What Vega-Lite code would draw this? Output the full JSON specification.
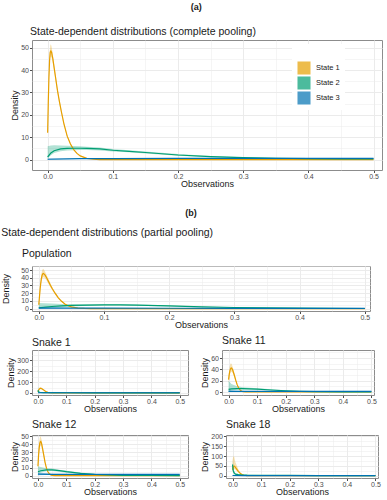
{
  "$schema": "https://vega.github.io/schema/vega-lite/v6.json",
  "padding": {"left": 1, "top": 3, "right": 4, "bottom": 0},
  "config": {
    "font": "Liberation Sans",
    "view": {"stroke": "#8c8c8c", "strokeWidth": 1},
    "axis": {"domain": false, "labelFontSize": 7, "labelColor": "#4d4d4d", "titleFontSize": 9, "titleFontWeight": "normal", "titleColor": "#1a1a1a", "tickColor": "#4d4d4d", "tickSize": 2.5, "labelPadding": 1, "titlePadding": 1, "gridColor": "#ebebeb", "labelOverlap": false, "labelFont": "Liberation Sans", "titleFont": "Liberation Sans"},
    "axisX": {"labelPadding": 0, "titlePadding": 0},
    "title": {"fontSize": 10.5, "fontWeight": "normal", "anchor": "start", "offset": 3, "color": "#1a1a1a", "font": "Liberation Sans"},
    "legend": {"labelFont": "Liberation Sans"}
  },
  "datasets": {
    "a": [
      {"s":"State 1","x":0,"y":12,"lo":10.5,"hi":13.5},{"s":"State 1","x":0.001,"y":26,"lo":24,"hi":28},{"s":"State 1","x":0.002,"y":37,"lo":35,"hi":39.5},{"s":"State 1","x":0.003,"y":44.5,"lo":42,"hi":47.5},{"s":"State 1","x":0.004,"y":48,"lo":45.5,"hi":51},{"s":"State 1","x":0.005,"y":48.5,"lo":46,"hi":51.5},{"s":"State 1","x":0.006,"y":48,"lo":45.5,"hi":50.5},{"s":"State 1","x":0.008,"y":45,"lo":43,"hi":47},{"s":"State 1","x":0.01,"y":41,"lo":39.5,"hi":42.5},{"s":"State 1","x":0.012,"y":37,"lo":35.5,"hi":38.5},{"s":"State 1","x":0.015,"y":31,"lo":30,"hi":32},{"s":"State 1","x":0.018,"y":26,"lo":25,"hi":27},{"s":"State 1","x":0.021,"y":21.5,"lo":20.5,"hi":22.5},{"s":"State 1","x":0.025,"y":16,"lo":15.3,"hi":16.7},{"s":"State 1","x":0.03,"y":10.5,"lo":10,"hi":11},{"s":"State 1","x":0.035,"y":7,"lo":6.6,"hi":7.4},{"s":"State 1","x":0.04,"y":4.5,"lo":4.2,"hi":4.8},{"s":"State 1","x":0.045,"y":2.8,"lo":2.6,"hi":3},{"s":"State 1","x":0.05,"y":1.7,"lo":1.5,"hi":1.9},{"s":"State 1","x":0.06,"y":0.6,"lo":0.5,"hi":0.7},{"s":"State 1","x":0.07,"y":0.2,"lo":0.15,"hi":0.25},{"s":"State 1","x":0.08,"y":0.07,"lo":0.05,"hi":0.09},{"s":"State 1","x":0.1,"y":0.01,"lo":0,"hi":0.02},{"s":"State 1","x":0.2,"y":0,"lo":0,"hi":0},{"s":"State 1","x":0.3,"y":0,"lo":0,"hi":0},{"s":"State 1","x":0.4,"y":0,"lo":0,"hi":0},{"s":"State 1","x":0.5,"y":0,"lo":0,"hi":0},
      {"s":"State 2","x":0,"y":1.2,"lo":0.5,"hi":6},{"s":"State 2","x":0.005,"y":3,"lo":2,"hi":6.3},{"s":"State 2","x":0.01,"y":4,"lo":3,"hi":6.4},{"s":"State 2","x":0.02,"y":4.8,"lo":3.8,"hi":6.3},{"s":"State 2","x":0.03,"y":5.05,"lo":4.1,"hi":6.2},{"s":"State 2","x":0.04,"y":5.1,"lo":4.2,"hi":6.1},{"s":"State 2","x":0.05,"y":5.1,"lo":4.3,"hi":6},{"s":"State 2","x":0.06,"y":5.05,"lo":4.3,"hi":5.8},{"s":"State 2","x":0.08,"y":4.8,"lo":4.1,"hi":5.4},{"s":"State 2","x":0.1,"y":4.2,"lo":3.7,"hi":4.8},{"s":"State 2","x":0.125,"y":3.7,"lo":3.3,"hi":4.2},{"s":"State 2","x":0.15,"y":3.2,"lo":2.8,"hi":3.6},{"s":"State 2","x":0.2,"y":2.1,"lo":1.8,"hi":2.5},{"s":"State 2","x":0.25,"y":1.35,"lo":1.1,"hi":1.6},{"s":"State 2","x":0.3,"y":0.9,"lo":0.7,"hi":1.1},{"s":"State 2","x":0.35,"y":0.65,"lo":0.5,"hi":0.85},{"s":"State 2","x":0.4,"y":0.45,"lo":0.3,"hi":0.6},{"s":"State 2","x":0.45,"y":0.35,"lo":0.22,"hi":0.5},{"s":"State 2","x":0.5,"y":0.3,"lo":0.2,"hi":0.4},
      {"s":"State 3","x":0,"y":0.2,"lo":0,"hi":0.5},{"s":"State 3","x":0.05,"y":0.45,"lo":0.3,"hi":0.6},{"s":"State 3","x":0.1,"y":0.5,"lo":0.35,"hi":0.65},{"s":"State 3","x":0.2,"y":0.55,"lo":0.4,"hi":0.7},{"s":"State 3","x":0.3,"y":0.55,"lo":0.4,"hi":0.7},{"s":"State 3","x":0.4,"y":0.55,"lo":0.4,"hi":0.7},{"s":"State 3","x":0.5,"y":0.55,"lo":0.4,"hi":0.7}
    ],
    "pop": [
      {"s":"State 1","x":0,"y":5,"lo":3,"hi":7},{"s":"State 1","x":0.001,"y":15,"lo":12,"hi":18},{"s":"State 1","x":0.002,"y":25,"lo":21,"hi":29},{"s":"State 1","x":0.003,"y":33,"lo":29,"hi":38},{"s":"State 1","x":0.004,"y":39,"lo":34,"hi":45},{"s":"State 1","x":0.005,"y":43,"lo":38,"hi":49},{"s":"State 1","x":0.006,"y":45,"lo":40,"hi":51},{"s":"State 1","x":0.007,"y":45.5,"lo":40.5,"hi":51.5},{"s":"State 1","x":0.008,"y":45,"lo":40.5,"hi":50.5},{"s":"State 1","x":0.01,"y":43,"lo":39,"hi":47},{"s":"State 1","x":0.012,"y":40,"lo":36.5,"hi":43.5},{"s":"State 1","x":0.015,"y":35,"lo":32,"hi":38},{"s":"State 1","x":0.018,"y":30,"lo":27.5,"hi":32.5},{"s":"State 1","x":0.021,"y":25.5,"lo":23.5,"hi":27.5},{"s":"State 1","x":0.025,"y":20,"lo":18.5,"hi":21.5},{"s":"State 1","x":0.03,"y":14,"lo":13,"hi":15},{"s":"State 1","x":0.035,"y":9.5,"lo":8.8,"hi":10.2},{"s":"State 1","x":0.04,"y":6,"lo":5.5,"hi":6.5},{"s":"State 1","x":0.045,"y":3.8,"lo":3.4,"hi":4.2},{"s":"State 1","x":0.05,"y":2.3,"lo":2,"hi":2.6},{"s":"State 1","x":0.06,"y":0.8,"lo":0.6,"hi":1},{"s":"State 1","x":0.07,"y":0.3,"lo":0.2,"hi":0.4},{"s":"State 1","x":0.08,"y":0.1,"lo":0.05,"hi":0.15},{"s":"State 1","x":0.1,"y":0,"lo":0,"hi":0.02},{"s":"State 1","x":0.2,"y":0,"lo":0,"hi":0},{"s":"State 1","x":0.3,"y":0,"lo":0,"hi":0},{"s":"State 1","x":0.4,"y":0,"lo":0,"hi":0},{"s":"State 1","x":0.5,"y":0,"lo":0,"hi":0},
      {"s":"State 2","x":0,"y":1.2,"lo":0,"hi":7.5},{"s":"State 2","x":0.01,"y":2,"lo":0.5,"hi":7},{"s":"State 2","x":0.02,"y":2.8,"lo":1,"hi":6.6},{"s":"State 2","x":0.035,"y":3.6,"lo":2,"hi":6.1},{"s":"State 2","x":0.05,"y":4.2,"lo":2.8,"hi":5.8},{"s":"State 2","x":0.075,"y":4.7,"lo":3.8,"hi":5.7},{"s":"State 2","x":0.1,"y":5,"lo":4.2,"hi":5.8},{"s":"State 2","x":0.125,"y":4.9,"lo":4.2,"hi":5.6},{"s":"State 2","x":0.15,"y":4.6,"lo":3.9,"hi":5.3},{"s":"State 2","x":0.2,"y":3.5,"lo":2.9,"hi":4.1},{"s":"State 2","x":0.25,"y":2.4,"lo":1.9,"hi":2.9},{"s":"State 2","x":0.3,"y":1.5,"lo":1.1,"hi":1.9},{"s":"State 2","x":0.35,"y":1,"lo":0.7,"hi":1.3},{"s":"State 2","x":0.4,"y":0.6,"lo":0.4,"hi":0.85},{"s":"State 2","x":0.45,"y":0.4,"lo":0.25,"hi":0.6},{"s":"State 2","x":0.5,"y":0.25,"lo":0.1,"hi":0.4},
      {"s":"State 3","x":0,"y":0.8,"lo":0,"hi":2.5},{"s":"State 3","x":0.02,"y":0.75,"lo":0.3,"hi":1.5},{"s":"State 3","x":0.05,"y":0.7,"lo":0.4,"hi":1.1},{"s":"State 3","x":0.1,"y":0.6,"lo":0.4,"hi":0.8},{"s":"State 3","x":0.2,"y":0.55,"lo":0.4,"hi":0.7},{"s":"State 3","x":0.3,"y":0.5,"lo":0.35,"hi":0.65},{"s":"State 3","x":0.4,"y":0.5,"lo":0.35,"hi":0.65},{"s":"State 3","x":0.5,"y":0.5,"lo":0.35,"hi":0.65}
    ],
    "s1": [
      {"s":"State 1","x":0,"y":8,"lo":2,"hi":16},{"s":"State 1","x":0.002,"y":22,"lo":14,"hi":32},{"s":"State 1","x":0.004,"y":33,"lo":24,"hi":44},{"s":"State 1","x":0.006,"y":39,"lo":30,"hi":50},{"s":"State 1","x":0.008,"y":42,"lo":33,"hi":53},{"s":"State 1","x":0.01,"y":42.5,"lo":34,"hi":53},{"s":"State 1","x":0.012,"y":41,"lo":33,"hi":51},{"s":"State 1","x":0.015,"y":37,"lo":30,"hi":46},{"s":"State 1","x":0.02,"y":28,"lo":22,"hi":35},{"s":"State 1","x":0.025,"y":18,"lo":14,"hi":23},{"s":"State 1","x":0.03,"y":10,"lo":7.5,"hi":13},{"s":"State 1","x":0.035,"y":5,"lo":3.5,"hi":7},{"s":"State 1","x":0.04,"y":2,"lo":1.3,"hi":3},{"s":"State 1","x":0.05,"y":0.5,"lo":0.3,"hi":0.8},{"s":"State 1","x":0.06,"y":0.1,"lo":0,"hi":0.2},{"s":"State 1","x":0.1,"y":0,"lo":0,"hi":0},{"s":"State 1","x":0.2,"y":0,"lo":0,"hi":0},{"s":"State 1","x":0.3,"y":0,"lo":0,"hi":0},{"s":"State 1","x":0.4,"y":0,"lo":0,"hi":0},{"s":"State 1","x":0.5,"y":0,"lo":0,"hi":0},
      {"s":"State 2","x":0,"y":25,"lo":5,"hi":60},{"s":"State 2","x":0.002,"y":12,"lo":4,"hi":30},{"s":"State 2","x":0.005,"y":6,"lo":3,"hi":14},{"s":"State 2","x":0.01,"y":4,"lo":2.5,"hi":8},{"s":"State 2","x":0.02,"y":3,"lo":2,"hi":5},{"s":"State 2","x":0.05,"y":2.2,"lo":1.5,"hi":3.2},{"s":"State 2","x":0.1,"y":1.5,"lo":1,"hi":2.2},{"s":"State 2","x":0.2,"y":0.8,"lo":0.5,"hi":1.2},{"s":"State 2","x":0.3,"y":0.4,"lo":0.2,"hi":0.7},{"s":"State 2","x":0.4,"y":0.2,"lo":0.1,"hi":0.4},{"s":"State 2","x":0.5,"y":0.1,"lo":0,"hi":0.25},
      {"s":"State 3","x":0,"y":1.5,"lo":0,"hi":4},{"s":"State 3","x":0.05,"y":1.5,"lo":0.8,"hi":2.4},{"s":"State 3","x":0.1,"y":1.5,"lo":0.9,"hi":2.2},{"s":"State 3","x":0.2,"y":1.5,"lo":1,"hi":2},{"s":"State 3","x":0.3,"y":1.5,"lo":1,"hi":2},{"s":"State 3","x":0.4,"y":1.5,"lo":1,"hi":2},{"s":"State 3","x":0.5,"y":1.5,"lo":1,"hi":2}
    ],
    "s11": [
      {"s":"State 1","x":0,"y":22,"lo":15,"hi":30},{"s":"State 1","x":0.002,"y":30,"lo":23,"hi":38},{"s":"State 1","x":0.004,"y":36,"lo":29,"hi":45},{"s":"State 1","x":0.006,"y":40,"lo":33,"hi":49},{"s":"State 1","x":0.008,"y":42,"lo":35,"hi":51},{"s":"State 1","x":0.01,"y":42.5,"lo":36,"hi":50},{"s":"State 1","x":0.012,"y":41.5,"lo":35.5,"hi":48},{"s":"State 1","x":0.015,"y":38,"lo":33,"hi":43.5},{"s":"State 1","x":0.02,"y":30,"lo":26,"hi":34},{"s":"State 1","x":0.025,"y":21,"lo":18,"hi":24},{"s":"State 1","x":0.03,"y":13,"lo":11,"hi":15},{"s":"State 1","x":0.035,"y":7.5,"lo":6.3,"hi":8.8},{"s":"State 1","x":0.04,"y":3.8,"lo":3.1,"hi":4.6},{"s":"State 1","x":0.045,"y":1.8,"lo":1.4,"hi":2.3},{"s":"State 1","x":0.05,"y":0.8,"lo":0.6,"hi":1.1},{"s":"State 1","x":0.06,"y":0.2,"lo":0.1,"hi":0.3},{"s":"State 1","x":0.1,"y":0,"lo":0,"hi":0},{"s":"State 1","x":0.2,"y":0,"lo":0,"hi":0},{"s":"State 1","x":0.3,"y":0,"lo":0,"hi":0},{"s":"State 1","x":0.4,"y":0,"lo":0,"hi":0},{"s":"State 1","x":0.5,"y":0,"lo":0,"hi":0},
      {"s":"State 2","x":0,"y":4.5,"lo":0,"hi":20},{"s":"State 2","x":0.01,"y":5.5,"lo":2.5,"hi":14},{"s":"State 2","x":0.03,"y":6,"lo":4,"hi":10},{"s":"State 2","x":0.05,"y":6,"lo":4.5,"hi":8.5},{"s":"State 2","x":0.1,"y":5,"lo":3.8,"hi":6.8},{"s":"State 2","x":0.15,"y":3.5,"lo":2.5,"hi":4.8},{"s":"State 2","x":0.2,"y":2,"lo":1.3,"hi":2.9},{"s":"State 2","x":0.25,"y":1,"lo":0.5,"hi":1.6},{"s":"State 2","x":0.3,"y":0.5,"lo":0.2,"hi":0.9},{"s":"State 2","x":0.4,"y":0.1,"lo":0,"hi":0.3},{"s":"State 2","x":0.5,"y":0,"lo":0,"hi":0.1},
      {"s":"State 3","x":0,"y":1,"lo":0,"hi":3},{"s":"State 3","x":0.05,"y":1,"lo":0.5,"hi":1.6},{"s":"State 3","x":0.1,"y":1,"lo":0.6,"hi":1.4},{"s":"State 3","x":0.2,"y":1,"lo":0.7,"hi":1.3},{"s":"State 3","x":0.3,"y":1,"lo":0.7,"hi":1.3},{"s":"State 3","x":0.4,"y":1,"lo":0.7,"hi":1.3},{"s":"State 3","x":0.5,"y":1,"lo":0.7,"hi":1.3}
    ],
    "s12": [
      {"s":"State 1","x":0,"y":12,"lo":8,"hi":17},{"s":"State 1","x":0.002,"y":25,"lo":20,"hi":31},{"s":"State 1","x":0.004,"y":34,"lo":28,"hi":41},{"s":"State 1","x":0.006,"y":40,"lo":34,"hi":47},{"s":"State 1","x":0.008,"y":43,"lo":37,"hi":50},{"s":"State 1","x":0.01,"y":43.5,"lo":38,"hi":49.5},{"s":"State 1","x":0.012,"y":42,"lo":37,"hi":47},{"s":"State 1","x":0.015,"y":37,"lo":33,"hi":41},{"s":"State 1","x":0.02,"y":27,"lo":24,"hi":30},{"s":"State 1","x":0.025,"y":17,"lo":15,"hi":19},{"s":"State 1","x":0.03,"y":9.5,"lo":8.3,"hi":10.8},{"s":"State 1","x":0.035,"y":5,"lo":4.3,"hi":5.8},{"s":"State 1","x":0.04,"y":2.3,"lo":1.9,"hi":2.8},{"s":"State 1","x":0.045,"y":1,"lo":0.8,"hi":1.3},{"s":"State 1","x":0.05,"y":0.4,"lo":0.3,"hi":0.6},{"s":"State 1","x":0.06,"y":0.1,"lo":0,"hi":0.2},{"s":"State 1","x":0.1,"y":0,"lo":0,"hi":0},{"s":"State 1","x":0.2,"y":0,"lo":0,"hi":0},{"s":"State 1","x":0.3,"y":0,"lo":0,"hi":0},{"s":"State 1","x":0.4,"y":0,"lo":0,"hi":0},{"s":"State 1","x":0.5,"y":0,"lo":0,"hi":0},
      {"s":"State 2","x":0,"y":5,"lo":2,"hi":12},{"s":"State 2","x":0.01,"y":6.2,"lo":4,"hi":11},{"s":"State 2","x":0.03,"y":7.4,"lo":5.5,"hi":9.5},{"s":"State 2","x":0.05,"y":7.4,"lo":6,"hi":9},{"s":"State 2","x":0.075,"y":6.3,"lo":5,"hi":7.6},{"s":"State 2","x":0.1,"y":5,"lo":3.8,"hi":6.2},{"s":"State 2","x":0.15,"y":3,"lo":2.1,"hi":4},{"s":"State 2","x":0.2,"y":1.5,"lo":0.8,"hi":2.2},{"s":"State 2","x":0.25,"y":0.8,"lo":0.4,"hi":1.3},{"s":"State 2","x":0.3,"y":0.4,"lo":0.1,"hi":0.8},{"s":"State 2","x":0.4,"y":0.15,"lo":0,"hi":0.4},{"s":"State 2","x":0.5,"y":0.1,"lo":0,"hi":0.25},
      {"s":"State 3","x":0,"y":2,"lo":0.5,"hi":4},{"s":"State 3","x":0.05,"y":1.6,"lo":1,"hi":2.3},{"s":"State 3","x":0.1,"y":1.5,"lo":1.1,"hi":2},{"s":"State 3","x":0.2,"y":1.5,"lo":1.1,"hi":1.9},{"s":"State 3","x":0.3,"y":1.5,"lo":1.1,"hi":1.9},{"s":"State 3","x":0.4,"y":1.5,"lo":1.1,"hi":1.9},{"s":"State 3","x":0.5,"y":1.5,"lo":1.1,"hi":1.9}
    ],
    "s18": [
      {"s":"State 1","x":0,"y":30,"lo":15,"hi":80},{"s":"State 1","x":0.002,"y":42,"lo":25,"hi":95},{"s":"State 1","x":0.004,"y":48,"lo":30,"hi":100},{"s":"State 1","x":0.006,"y":48.5,"lo":32,"hi":95},{"s":"State 1","x":0.008,"y":46,"lo":32,"hi":80},{"s":"State 1","x":0.01,"y":42,"lo":30,"hi":68},{"s":"State 1","x":0.015,"y":32,"lo":24,"hi":50},{"s":"State 1","x":0.02,"y":22,"lo":17,"hi":33},{"s":"State 1","x":0.025,"y":14,"lo":11,"hi":21},{"s":"State 1","x":0.03,"y":8,"lo":6,"hi":13},{"s":"State 1","x":0.035,"y":4,"lo":3,"hi":7},{"s":"State 1","x":0.04,"y":2,"lo":1.4,"hi":3.5},{"s":"State 1","x":0.05,"y":0.5,"lo":0.3,"hi":1},{"s":"State 1","x":0.06,"y":0.1,"lo":0,"hi":0.3},{"s":"State 1","x":0.1,"y":0,"lo":0,"hi":0},{"s":"State 1","x":0.2,"y":0,"lo":0,"hi":0},{"s":"State 1","x":0.3,"y":0,"lo":0,"hi":0},{"s":"State 1","x":0.4,"y":0,"lo":0,"hi":0},{"s":"State 1","x":0.5,"y":0,"lo":0,"hi":0},
      {"s":"State 2","x":0,"y":57,"lo":30,"hi":80},{"s":"State 2","x":0.002,"y":28,"lo":15,"hi":45},{"s":"State 2","x":0.005,"y":15,"lo":9,"hi":24},{"s":"State 2","x":0.01,"y":8,"lo":5,"hi":12},{"s":"State 2","x":0.02,"y":5.5,"lo":4,"hi":8},{"s":"State 2","x":0.03,"y":4.5,"lo":3.3,"hi":6},{"s":"State 2","x":0.05,"y":3.2,"lo":2.4,"hi":4.2},{"s":"State 2","x":0.1,"y":2,"lo":1.4,"hi":2.7},{"s":"State 2","x":0.2,"y":1,"lo":0.6,"hi":1.5},{"s":"State 2","x":0.3,"y":0.4,"lo":0.2,"hi":0.7},{"s":"State 2","x":0.4,"y":0.15,"lo":0,"hi":0.35},{"s":"State 2","x":0.5,"y":0.05,"lo":0,"hi":0.2},
      {"s":"State 3","x":0,"y":0.8,"lo":0,"hi":3},{"s":"State 3","x":0.05,"y":0.6,"lo":0.2,"hi":1.2},{"s":"State 3","x":0.1,"y":0.5,"lo":0.2,"hi":0.9},{"s":"State 3","x":0.2,"y":0.5,"lo":0.2,"hi":0.9},{"s":"State 3","x":0.3,"y":0.5,"lo":0.2,"hi":0.9},{"s":"State 3","x":0.4,"y":0.5,"lo":0.2,"hi":0.9},{"s":"State 3","x":0.5,"y":0.5,"lo":0.2,"hi":0.9}
    ]
  },
  "resolve": {"scale": {"fill": "independent", "stroke": "independent"}},
  "spacing": 19,
  "vconcat": [
    {
      "title": {"text": "(a)", "anchor": "middle", "fontWeight": "bold", "fontSize": 9, "offset": 14, "frame": "bounds"},
      "resolve": {"scale": {"fill": "independent", "stroke": "independent"}},
      "vconcat": [
        {
          "title": {"text": "State-dependent distributions (complete pooling)", "frame": "group", "dx": -2},
          "width": 350, "height": 130,
          "data": {"name": "a"},
          "encoding": {
            "x": {"field": "x", "type": "quantitative", "scale": {"domain": [-0.024, 0.513], "nice": false, "zero": false},
                  "axis": {"title": "Observations", "labelOverlap": false, "values": [0,0.05,0.1,0.15,0.2,0.25,0.3,0.35,0.4,0.45,0.5], "labelExpr": "round(datum.value*100)%10==0 ? format(datum.value,'.1f') : ''", "tickOpacity": {"condition": {"test": "round(datum.value*100)%10!=0", "value": 0}, "value": 1}, "gridWidth": {"condition": {"test": "round(datum.value*100)%10!=0", "value": 0.5}, "value": 1}}}
          },
          "layer": [
            {"mark": {"type": "area", "opacity": 0.3},
             "encoding": {
               "y": {"field": "lo", "type": "quantitative", "stack": null, "scale": {"domain": [-4.6, 53.4], "nice": false, "zero": false},
                     "axis": {"title": "Density", "labelOverlap": false, "values": [0,5,10,15,20,25,30,35,40,45,50], "labelExpr": "datum.value%10==0 ? format(datum.value,'d') : ''", "tickOpacity": {"condition": {"test": "datum.value%10!=0", "value": 0}, "value": 1}, "gridWidth": {"condition": {"test": "datum.value%10!=0", "value": 0.5}, "value": 1}}},
               "y2": {"field": "hi"},
               "fill": {"field": "s", "type": "nominal", "scale": {"domain": ["State 1","State 2","State 3"], "range": ["#E69F00","#009E73","#0072B2"]},
                        "legend": {"title": " ", "titleFontSize": 7, "orient": "none", "legendX": 260, "legendY": 4, "symbolType": "square", "symbolSize": 170, "symbolOpacity": 0.7, "symbolStrokeWidth": 0, "labelFontSize": 7.5, "labelColor": "#1a1a1a", "fillColor": "white", "padding": 5, "rowPadding": 1, "labelOffset": 5}}
             }},
            {"mark": {"type": "line", "strokeWidth": 1.2},
             "encoding": {
               "y": {"field": "y", "type": "quantitative", "scale": {"domain": [-4.6, 53.4], "nice": false, "zero": false},
                     "axis": {"title": "Density", "labelOverlap": false, "values": [0,5,10,15,20,25,30,35,40,45,50], "labelExpr": "datum.value%10==0 ? format(datum.value,'d') : ''", "tickOpacity": {"condition": {"test": "datum.value%10!=0", "value": 0}, "value": 1}, "gridWidth": {"condition": {"test": "datum.value%10!=0", "value": 0.5}, "value": 1}}},
               "stroke": {"field": "s", "type": "nominal", "scale": {"domain": ["State 1","State 2","State 3"], "range": ["#E69F00","#009E73","#0072B2"]}, "legend": null}
             }}
          ]
        }
      ]
    },
    {
      "title": {"text": "(b)", "anchor": "middle", "fontWeight": "bold", "fontSize": 9, "offset": 10, "frame": "bounds"},
      "vconcat": [
        {
          "title": {"text": "State-dependent distributions (partial pooling)", "frame": "bounds", "offset": 10},
          "spacing": 5,
          "vconcat": [
            {
              "title": {"text": "Population", "frame": "group", "dx": -10},
              "width": 338, "height": 45,
              "data": {"name": "pop"},
              "encoding": {
                "x": {"field": "x", "type": "quantitative", "scale": {"domain": [-0.0104, 0.508], "nice": false, "zero": false},
                      "axis": {"title": "Observations", "labelOverlap": false, "values": [0,0.05,0.1,0.15,0.2,0.25,0.3,0.35,0.4,0.45,0.5], "labelExpr": "round(datum.value*100)%10==0 ? format(datum.value,'.1f') : ''", "tickOpacity": {"condition": {"test": "round(datum.value*100)%10!=0", "value": 0}, "value": 1}, "gridWidth": {"condition": {"test": "round(datum.value*100)%10!=0", "value": 0.5}, "value": 1}}}
              },
              "layer": [
                {"mark": {"type": "area", "opacity": 0.3},
                 "encoding": {
                   "y": {"field": "lo", "type": "quantitative", "stack": null, "scale": {"domain": [-3, 55.2], "nice": false, "zero": false},
                         "axis": {"title": "Density", "titlePadding": 10, "labelOverlap": false, "values": [0,5,10,15,20,25,30,35,40,45,50,55], "labelExpr": "datum.value%10==0 ? format(datum.value,'d') : ''", "tickOpacity": {"condition": {"test": "datum.value%10!=0", "value": 0}, "value": 1}, "gridWidth": {"condition": {"test": "datum.value%10!=0", "value": 0.5}, "value": 1}}},
                   "y2": {"field": "hi"},
                   "fill": {"field": "s", "type": "nominal", "scale": {"domain": ["State 1","State 2","State 3"], "range": ["#E69F00","#009E73","#0072B2"]}, "legend": null}
                 }},
                {"mark": {"type": "line", "strokeWidth": 1.2},
                 "encoding": {
                   "y": {"field": "y", "type": "quantitative", "scale": {"domain": [-3, 55.2], "nice": false, "zero": false},
                         "axis": {"title": "Density", "titlePadding": 10, "labelOverlap": false, "values": [0,5,10,15,20,25,30,35,40,45,50,55], "labelExpr": "datum.value%10==0 ? format(datum.value,'d') : ''", "tickOpacity": {"condition": {"test": "datum.value%10!=0", "value": 0}, "value": 1}, "gridWidth": {"condition": {"test": "datum.value%10!=0", "value": 0.5}, "value": 1}}},
                   "stroke": {"field": "s", "type": "nominal", "scale": {"domain": ["State 1","State 2","State 3"], "range": ["#E69F00","#009E73","#0072B2"]}, "legend": null}
                 }}
              ]
            },
            {
              "spacing": 11,
              "hconcat": [
                {
                  "title": {"text": "Snake 1", "frame": "group", "offset": 2},
                  "width": 156, "height": 45,
                  "data": {"name": "s1"},
                  "encoding": {
                    "x": {"field": "x", "type": "quantitative", "scale": {"domain": [-0.021, 0.529], "nice": false, "zero": false},
                          "axis": {"title": "Observations", "labelOverlap": false, "values": [0,0.05,0.1,0.15,0.2,0.25,0.3,0.35,0.4,0.45,0.5], "labelExpr": "round(datum.value*100)%10==0 ? format(datum.value,'.1f') : ''", "tickOpacity": {"condition": {"test": "round(datum.value*100)%10!=0", "value": 0}, "value": 1}, "gridWidth": {"condition": {"test": "round(datum.value*100)%10!=0", "value": 0.5}, "value": 1}}}
                  },
                  "layer": [
                    {"mark": {"type": "area", "opacity": 0.3},
                     "encoding": {
                       "y": {"field": "lo", "type": "quantitative", "stack": null, "scale": {"domain": [-19, 395], "nice": false, "zero": false},
                             "axis": {"title": "Density", "labelOverlap": false, "values": [0,50,100,150,200,250,300,350], "labelExpr": "datum.value%100==0 ? format(datum.value,'d') : ''", "tickOpacity": {"condition": {"test": "datum.value%100!=0", "value": 0}, "value": 1}, "gridWidth": {"condition": {"test": "datum.value%100!=0", "value": 0.5}, "value": 1}}},
                       "y2": {"field": "hi"},
                       "fill": {"field": "s", "type": "nominal", "scale": {"domain": ["State 1","State 2","State 3"], "range": ["#E69F00","#009E73","#0072B2"]}, "legend": null}
                     }},
                    {"mark": {"type": "line", "strokeWidth": 1.2},
                     "encoding": {
                       "y": {"field": "y", "type": "quantitative", "scale": {"domain": [-19, 395], "nice": false, "zero": false},
                             "axis": {"title": "Density", "labelOverlap": false, "values": [0,50,100,150,200,250,300,350], "labelExpr": "datum.value%100==0 ? format(datum.value,'d') : ''", "tickOpacity": {"condition": {"test": "datum.value%100!=0", "value": 0}, "value": 1}, "gridWidth": {"condition": {"test": "datum.value%100!=0", "value": 0.5}, "value": 1}}},
                       "stroke": {"field": "s", "type": "nominal", "scale": {"domain": ["State 1","State 2","State 3"], "range": ["#E69F00","#009E73","#0072B2"]}, "legend": null}
                     }}
                  ]
                },
                {
                  "title": {"text": "Snake 11", "frame": "group", "offset": 2},
                  "width": 152, "height": 45,
                  "data": {"name": "s11"},
                  "encoding": {
                    "x": {"field": "x", "type": "quantitative", "scale": {"domain": [-0.023, 0.509], "nice": false, "zero": false},
                          "axis": {"title": "Observations", "labelOverlap": false, "values": [0,0.05,0.1,0.15,0.2,0.25,0.3,0.35,0.4,0.45,0.5], "labelExpr": "round(datum.value*100)%10==0 ? format(datum.value,'.1f') : ''", "tickOpacity": {"condition": {"test": "round(datum.value*100)%10!=0", "value": 0}, "value": 1}, "gridWidth": {"condition": {"test": "round(datum.value*100)%10!=0", "value": 0.5}, "value": 1}}}
                  },
                  "layer": [
                    {"mark": {"type": "area", "opacity": 0.3},
                     "encoding": {
                       "y": {"field": "lo", "type": "quantitative", "stack": null, "scale": {"domain": [-5.3, 74.3], "nice": false, "zero": false},
                             "axis": {"title": "Density", "labelOverlap": false, "values": [0,10,20,30,40,50,60,70], "labelExpr": "datum.value%20==0 ? format(datum.value,'d') : ''", "tickOpacity": {"condition": {"test": "datum.value%20!=0", "value": 0}, "value": 1}, "gridWidth": {"condition": {"test": "datum.value%20!=0", "value": 0.5}, "value": 1}}},
                       "y2": {"field": "hi"},
                       "fill": {"field": "s", "type": "nominal", "scale": {"domain": ["State 1","State 2","State 3"], "range": ["#E69F00","#009E73","#0072B2"]}, "legend": null}
                     }},
                    {"mark": {"type": "line", "strokeWidth": 1.2},
                     "encoding": {
                       "y": {"field": "y", "type": "quantitative", "scale": {"domain": [-5.3, 74.3], "nice": false, "zero": false},
                             "axis": {"title": "Density", "labelOverlap": false, "values": [0,10,20,30,40,50,60,70], "labelExpr": "datum.value%20==0 ? format(datum.value,'d') : ''", "tickOpacity": {"condition": {"test": "datum.value%20!=0", "value": 0}, "value": 1}, "gridWidth": {"condition": {"test": "datum.value%20!=0", "value": 0.5}, "value": 1}}},
                       "stroke": {"field": "s", "type": "nominal", "scale": {"domain": ["State 1","State 2","State 3"], "range": ["#E69F00","#009E73","#0072B2"]}, "legend": null}
                     }}
                  ]
                }
              ]
            },
            {
              "spacing": 11,
              "hconcat": [
                {
                  "title": {"text": "Snake 12", "frame": "group", "offset": 2},
                  "width": 156, "height": 43,
                  "data": {"name": "s12"},
                  "encoding": {
                    "x": {"field": "x", "type": "quantitative", "scale": {"domain": [-0.021, 0.529], "nice": false, "zero": false},
                          "axis": {"title": "Observations", "labelOverlap": false, "values": [0,0.05,0.1,0.15,0.2,0.25,0.3,0.35,0.4,0.45,0.5], "labelExpr": "round(datum.value*100)%10==0 ? format(datum.value,'.1f') : ''", "tickOpacity": {"condition": {"test": "round(datum.value*100)%10!=0", "value": 0}, "value": 1}, "gridWidth": {"condition": {"test": "round(datum.value*100)%10!=0", "value": 0.5}, "value": 1}}}
                  },
                  "layer": [
                    {"mark": {"type": "area", "opacity": 0.3},
                     "encoding": {
                       "y": {"field": "lo", "type": "quantitative", "stack": null, "scale": {"domain": [-3, 51.7], "nice": false, "zero": false},
                             "axis": {"title": "Density", "labelOverlap": false, "values": [0,5,10,15,20,25,30,35,40,45,50], "labelExpr": "datum.value%10==0 ? format(datum.value,'d') : ''", "tickOpacity": {"condition": {"test": "datum.value%10!=0", "value": 0}, "value": 1}, "gridWidth": {"condition": {"test": "datum.value%10!=0", "value": 0.5}, "value": 1}}},
                       "y2": {"field": "hi"},
                       "fill": {"field": "s", "type": "nominal", "scale": {"domain": ["State 1","State 2","State 3"], "range": ["#E69F00","#009E73","#0072B2"]}, "legend": null}
                     }},
                    {"mark": {"type": "line", "strokeWidth": 1.2},
                     "encoding": {
                       "y": {"field": "y", "type": "quantitative", "scale": {"domain": [-3, 51.7], "nice": false, "zero": false},
                             "axis": {"title": "Density", "labelOverlap": false, "values": [0,5,10,15,20,25,30,35,40,45,50], "labelExpr": "datum.value%10==0 ? format(datum.value,'d') : ''", "tickOpacity": {"condition": {"test": "datum.value%10!=0", "value": 0}, "value": 1}, "gridWidth": {"condition": {"test": "datum.value%10!=0", "value": 0.5}, "value": 1}}},
                       "stroke": {"field": "s", "type": "nominal", "scale": {"domain": ["State 1","State 2","State 3"], "range": ["#E69F00","#009E73","#0072B2"]}, "legend": null}
                     }}
                  ]
                },
                {
                  "title": {"text": "Snake 18", "frame": "group", "offset": 2},
                  "width": 152, "height": 43,
                  "data": {"name": "s18"},
                  "encoding": {
                    "x": {"field": "x", "type": "quantitative", "scale": {"domain": [-0.023, 0.509], "nice": false, "zero": false},
                          "axis": {"title": "Observations", "labelOverlap": false, "values": [0,0.05,0.1,0.15,0.2,0.25,0.3,0.35,0.4,0.45,0.5], "labelExpr": "round(datum.value*100)%10==0 ? format(datum.value,'.1f') : ''", "tickOpacity": {"condition": {"test": "round(datum.value*100)%10!=0", "value": 0}, "value": 1}, "gridWidth": {"condition": {"test": "round(datum.value*100)%10!=0", "value": 0.5}, "value": 1}}}
                  },
                  "layer": [
                    {"mark": {"type": "area", "opacity": 0.3},
                     "encoding": {
                       "y": {"field": "lo", "type": "quantitative", "stack": null, "scale": {"domain": [-12, 207], "nice": false, "zero": false},
                             "axis": {"title": "Density", "labelOverlap": false, "values": [0,25,50,75,100,125,150,175,200], "labelExpr": "datum.value%50==0 ? format(datum.value,'d') : ''", "tickOpacity": {"condition": {"test": "datum.value%50!=0", "value": 0}, "value": 1}, "gridWidth": {"condition": {"test": "datum.value%50!=0", "value": 0.5}, "value": 1}}},
                       "y2": {"field": "hi"},
                       "fill": {"field": "s", "type": "nominal", "scale": {"domain": ["State 1","State 2","State 3"], "range": ["#E69F00","#009E73","#0072B2"]}, "legend": null}
                     }},
                    {"mark": {"type": "line", "strokeWidth": 1.2},
                     "encoding": {
                       "y": {"field": "y", "type": "quantitative", "scale": {"domain": [-12, 207], "nice": false, "zero": false},
                             "axis": {"title": "Density", "labelOverlap": false, "values": [0,25,50,75,100,125,150,175,200], "labelExpr": "datum.value%50==0 ? format(datum.value,'d') : ''", "tickOpacity": {"condition": {"test": "datum.value%50!=0", "value": 0}, "value": 1}, "gridWidth": {"condition": {"test": "datum.value%50!=0", "value": 0.5}, "value": 1}}},
                       "stroke": {"field": "s", "type": "nominal", "scale": {"domain": ["State 1","State 2","State 3"], "range": ["#E69F00","#009E73","#0072B2"]}, "legend": null}
                     }}
                  ]
                }
              ]
            }
          ]
        }
      ]
    }
  ]
}
